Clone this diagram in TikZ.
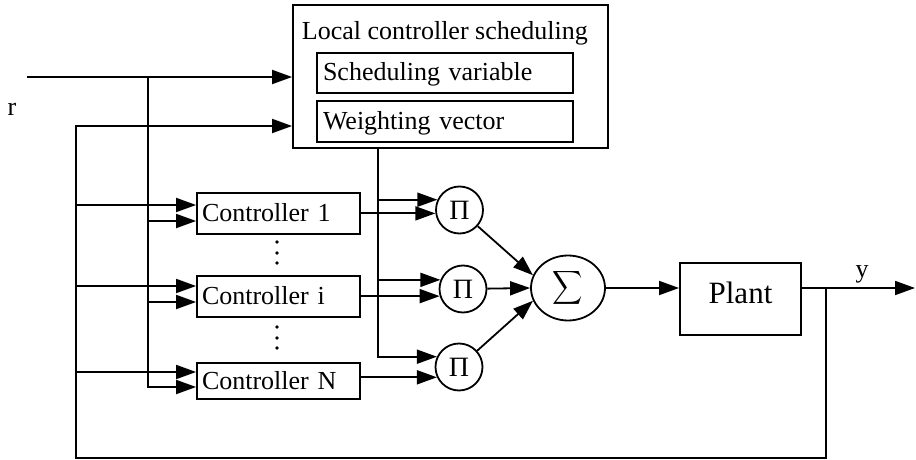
\documentclass[tikz,border=0pt]{standalone}
\usepackage{fontspec}
\setmainfont{Liberation Serif}
\usepackage{graphicx}
\usetikzlibrary{arrows.meta,calc,shapes.geometric}
\begin{document}
\begin{tikzpicture}[x=1pt,y=-1pt,line width=1.8pt,
  arr/.style={-{Triangle[length=20pt,width=14pt]}},
  txt/.style={font=\fontsize{26}{30}\selectfont},
  block/.style={draw,rectangle,txt,inner ysep=0pt,align=left,text height=18pt,text depth=2pt},
  mult/.style={draw,circle,minimum size=47pt,inner sep=0pt,font=\fontsize{28}{30}\selectfont},
  dotmark/.style={circle,fill,inner sep=0pt,minimum size=3.6pt}]
\useasboundingbox (0,0) rectangle (916,460);
% scheduler
\node[draw,rectangle,minimum width=315pt,minimum height=143pt,inner sep=0pt] (sched) at (450.5,76.5) {};
\node[txt,inner sep=0pt,anchor=base west] (title) at (301,40) {Local controller scheduling};
\node[block,inner xsep=6pt,text width=244pt,minimum height=40pt] (sv) at (445,73) {Scheduling variable};
\node[block,inner xsep=6pt,text width=244pt,minimum height=41pt] (wv) at (445,121.5) {Weighting vector};
% controllers
\node[block,inner xsep=5pt,text width=153pt,minimum height=41pt] (C1) at (278.5,213.5) {Controller 1};
\node[block,inner xsep=5pt,text width=153pt,minimum height=41pt] (Ci) at (278.5,296.5) {Controller i};
\node[block,inner xsep=5pt,text width=153pt,minimum height=36pt] (CN) at (278.5,381) {Controller N};
\node[dotmark] (d1) at (277,242) {};
\node[dotmark] (d2) at (277,253) {};
\node[dotmark] (d3) at (277,263) {};
\node[dotmark] (d4) at (277,327) {};
\node[dotmark] (d5) at (277,338) {};
\node[dotmark] (d6) at (277,348) {};
% products, sum, plant
\node[mult] (P1) at (459.5,210) {Π};
\node[mult] (P2) at (463,289) {Π};
\node[mult] (P3) at (459,367) {Π};
\node[draw,ellipse,minimum width=74pt,minimum height=65pt,inner sep=0pt] (S) at (568,288) {\scalebox{2.1}[2.35]{$\displaystyle\sum$}};
\node[draw,rectangle,minimum width=121pt,minimum height=72pt,inner sep=0pt,font=\fontsize{31}{34}\selectfont,text height=21pt,text depth=13pt] (plant) at (740.5,299) {Plant};
% labels
\node[txt,inner sep=0pt,anchor=base] (rl) at (12,115) {r};
\node[txt,inner sep=0pt,anchor=base] (yl) at (862,277) {y};
% coordinates
\coordinate (rin) at (27,77);
\coordinate (rv) at (148,77);
\coordinate (fbt) at (76,126);
\coordinate (fbb) at (76,458);
\coordinate (br) at (826,288);
\coordinate (yend) at (915,288);
\coordinate (so) at ($(sched.south west)+(86,0)$);
\coordinate (c1a) at ($(C1.west)+(0,-8.5)$);
\coordinate (c1b) at ($(C1.west)+(0,7.5)$);
\coordinate (cia) at ($(Ci.west)+(0,-10.5)$);
\coordinate (cib) at ($(Ci.west)+(0,5.5)$);
\coordinate (cna) at ($(CN.west)+(0,-9)$);
\coordinate (cnb) at ($(CN.west)+(0,6)$);
% inputs
\draw[arr] (rin) -- (rin -| sched.west);
\draw[arr] (br) |- (fbb) -- (fbt) -- (fbt -| sched.west);
\draw[arr] (rv) |- (cnb);
\draw[arr] (rv |- c1b) -- (c1b);
\draw[arr] (rv |- cib) -- (cib);
\draw[arr] (fbt |- c1a) -- (c1a);
\draw[arr] (fbt |- cia) -- (cia);
\draw[arr] (fbt |- cna) -- (cna);
% scheduler outputs
\draw[arr] (so) |- (P3.155);
\draw[arr] (so |- P1.155) -- (P1.155);
\draw[arr] (so |- P2.158) -- (P2.158);
% controller outputs
\draw[arr] (C1.east |- P1.188) -- (P1.188);
\draw[arr] (Ci.east |- P2.197) -- (P2.197);
\draw[arr] (CN.east |- P3.205) -- (P3.205);
% to sum
\draw[arr] (P1) -- (S.160);
\draw[arr] (P2) -- (S.west);
\draw[arr] (P3) -- (S.200);
% plant
\draw[arr] (S.east) -- (S.east -| plant.west);
\draw[arr] (S.east -| plant.east) -- (yend);
\end{tikzpicture}
\end{document}
